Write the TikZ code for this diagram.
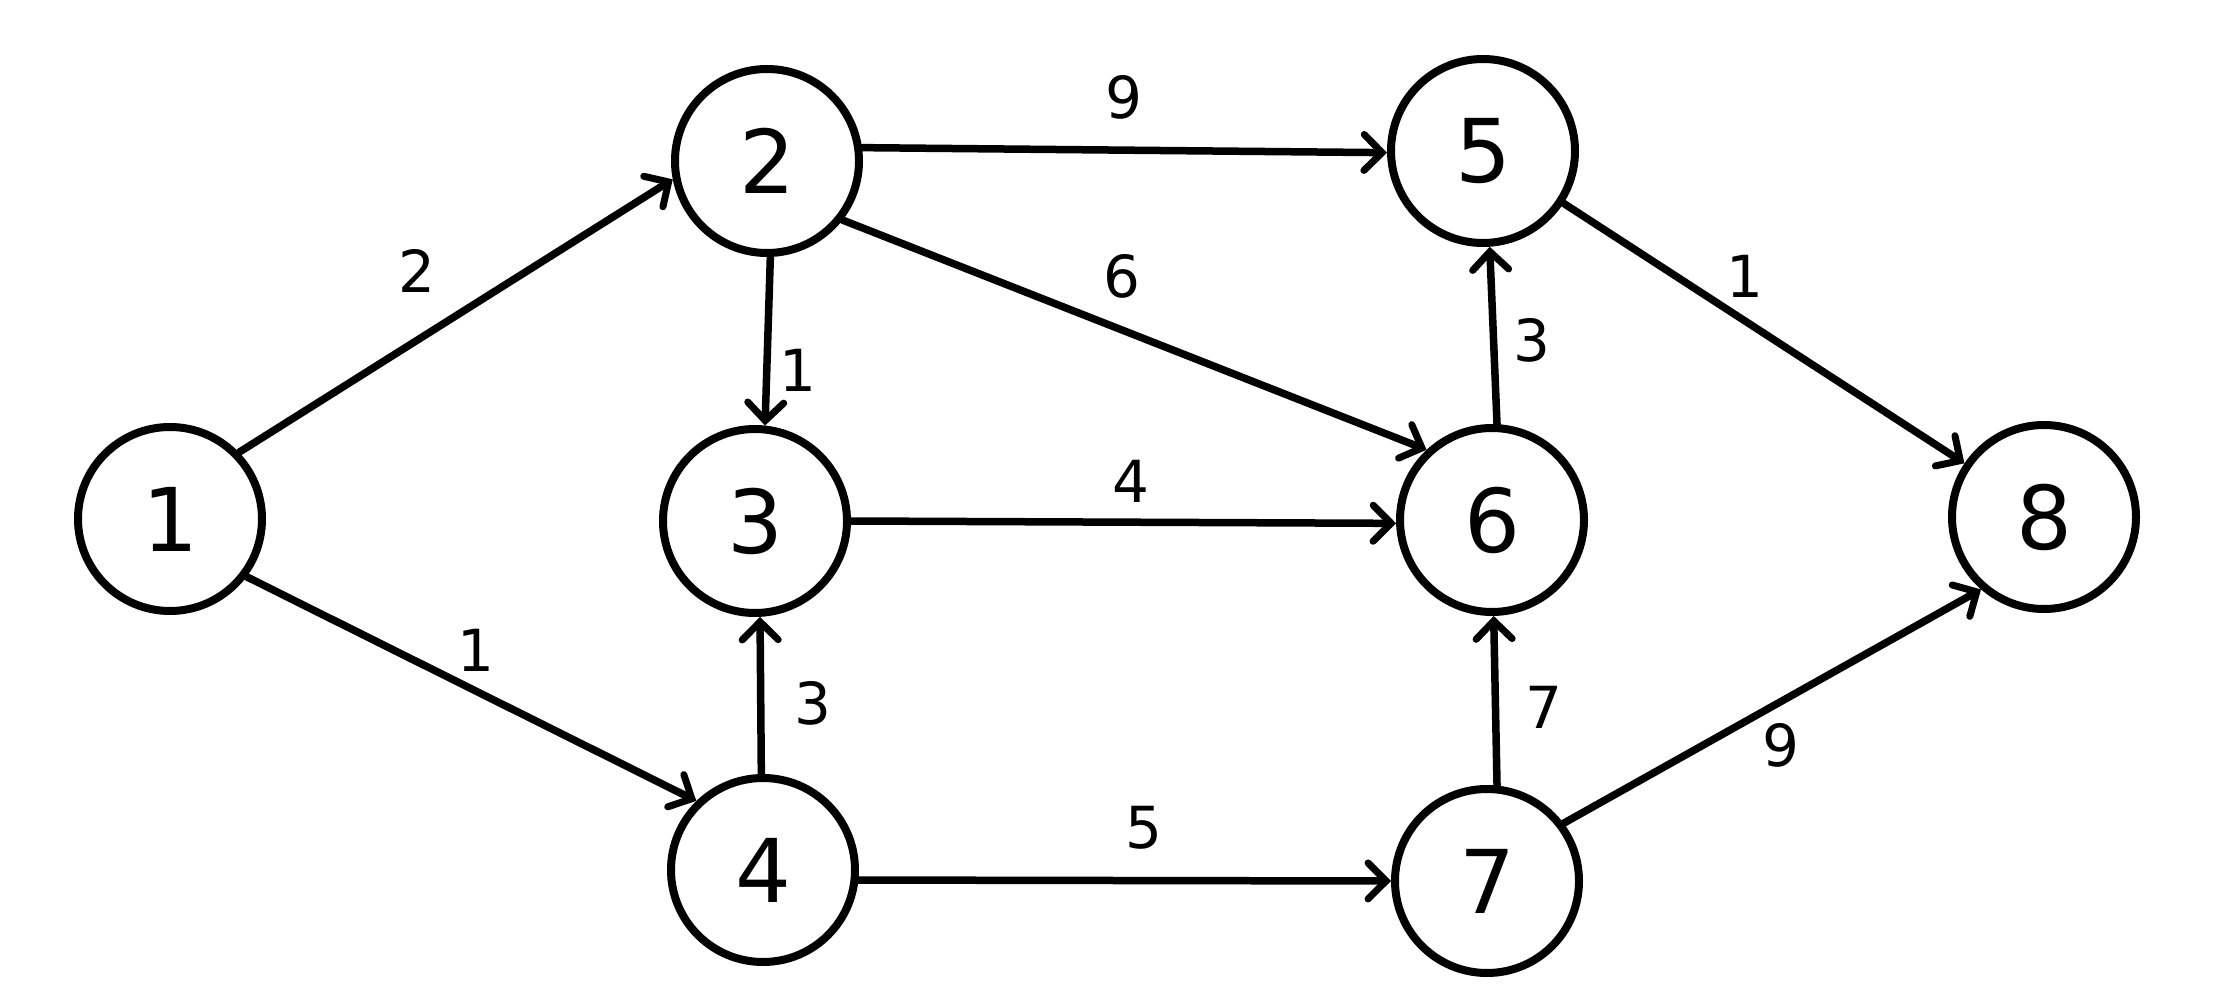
\documentclass[tikz,border=0pt]{standalone}
\usepackage{fontspec}
\setmainfont{DejaVu Sans}
\usetikzlibrary{arrows.meta}
\begin{document}
\begin{tikzpicture}[x=1pt,y=-1pt,
  vertex/.style={circle,draw=black,line width=8pt,minimum size=184pt,inner sep=0pt,
    font=\fontsize{88}{88}\selectfont},
  edgeline/.style={line width=7.5pt,line cap=round,
    -{Straight Barb[length=18pt,width=36pt,line width=7pt,line cap=round]}},
  weight/.style={font=\fontsize{58}{58}\selectfont,inner sep=0pt}]
\useasboundingbox (0,0) rectangle (2239,1000);
\node[vertex] (n1) at (170,519) {1};
\node[vertex] (n2) at (767,161) {2};
\node[vertex] (n3) at (755,521) {3};
\node[vertex] (n4) at (763,870) {4};
\node[vertex] (n5) at (1483,151) {5};
\node[vertex] (n6) at (1492,520) {6};
\node[vertex] (n7) at (1487,881) {7};
\node[vertex] (n8) at (2044,517) {8};
\draw[edgeline] (n1.44) -- (n2.191);
\draw[edgeline] (n1.-37) -- (n4.134);
\draw[edgeline] (n2.8) -- (n5.181);
\draw[edgeline] (n2.-88) -- (n3.84);
\draw[edgeline] (n2.-38) -- (n6.133);
\draw[edgeline] (n3.0) -- (n6.182);
\draw[edgeline] (n4.91) -- (n3.-87);
\draw[edgeline] (n4.-6) -- (n7.180);
\draw[edgeline] (n6.87) -- (n5.-86);
\draw[edgeline] (n5.-33) -- (n8.146);
\draw[edgeline] (n7.84) -- (n6.-89);
\draw[edgeline] (n7.37) -- (n8.-131);
\node[weight] (w12) at (417,271) {2};
\node[weight] (w14) at (476,650) {1};
\node[weight] (w25) at (1124,97) {9};
\node[weight] (w23) at (798,370) {1};
\node[weight] (w26) at (1122,276) {6};
\node[weight] (w36) at (1131,481) {4};
\node[weight] (w43) at (813,703) {3};
\node[weight] (w47) at (1144,828) {5};
\node[weight] (w65) at (1532,340) {3};
\node[weight] (w58) at (1745,276) {1};
\node[weight] (w76) at (1544,707) {7};
\node[weight] (w78) at (1781,745) {9};
\end{tikzpicture}
\end{document}
